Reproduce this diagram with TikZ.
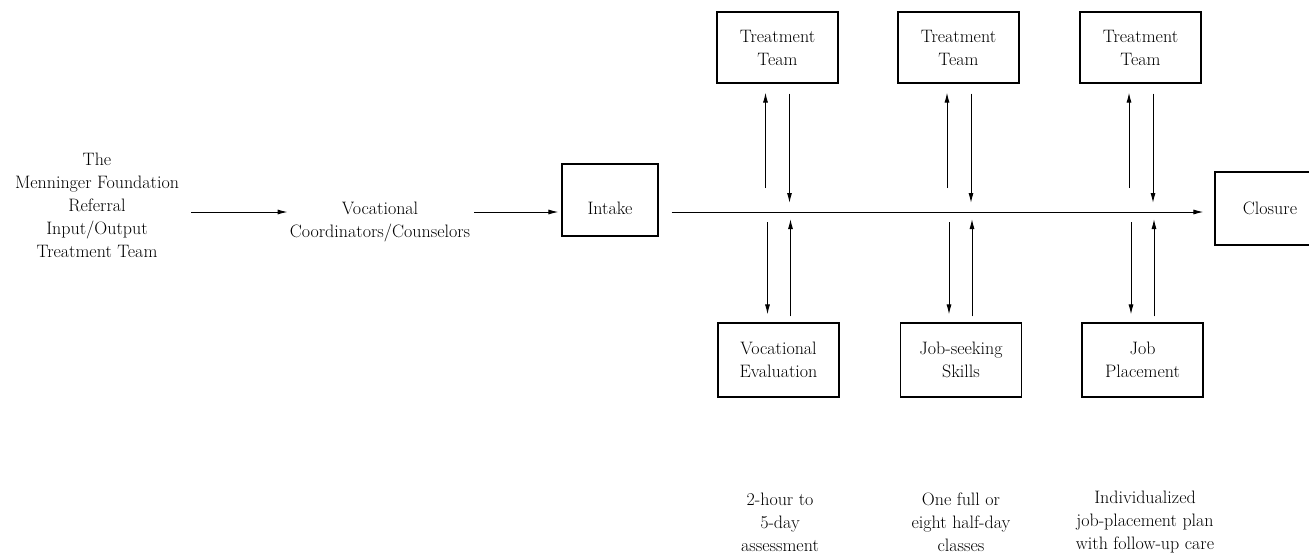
\documentclass[tikz,border=0pt]{standalone}
\usetikzlibrary{arrows.meta}
\begin{document}
\begin{tikzpicture}[x=1pt,y=-1pt,
  every node/.append style={font=\fontsize{18}{23}\selectfont},
  box/.style={draw,line width=1.1pt,minimum width=121pt,align=center,inner sep=0pt},
  txt/.style={align=center,inner sep=0pt},
  arr/.style={line width=1pt,-{Latex[length=10pt,width=5pt]}}]
\clip (0,0) rectangle (1309,558);
\useasboundingbox (0,0) rectangle (1309,558);
% left texts
\node[txt] (ref) at (97,205) {The\\Menninger Foundation\\Referral\\Input/Output\\Treatment Team};
\node[txt] (voc) at (380,222) {Vocational\\Coordinators/Counselors};
\node[box,minimum width=96pt,minimum height=72pt,text height=28pt,text depth=0pt] (intake) at (610,200) {Intake};
\node[box,minimum width=110pt,minimum height=73pt] (closure) at (1270,208.5) {Closure};
% top boxes
\node[box,minimum height=71pt] (t1) at (777.5,47.5) {Treatment\\Team};
\node[box,minimum height=71pt] (t2) at (958.5,47.5) {Treatment\\Team};
\node[box,minimum height=71pt] (t3) at (1140.5,47.5) {Treatment\\Team};
% bottom boxes
\node[box,minimum height=74pt] (b1) at (778.5,360) {Vocational\\Evaluation};
\node[box,minimum height=74pt] (b2) at (961,360) {Job-seeking\\Skills};
\node[box,minimum height=74pt] (b3) at (1142.5,360) {Job\\Placement};
% bottom notes
\node[txt] (n1) at (780,522) {2-hour to\\5-day\\assessment};
\node[txt] (n2) at (961,522) {One full or\\eight half-day\\classes};
\node[txt] (n3) at (1145,522) {Individualized\\job-placement plan\\with follow-up care};
% main line coordinates
\coordinate (m1) at (777.5,212);
\coordinate (m2) at (959,212);
\coordinate (m3) at (1141,212);
% horizontal arrows
\draw[arr,shorten <=12pt,shorten >=2pt] (ref.east |- m1) -- (voc.west |- m1);
\draw[arr,shorten <=4pt,shorten >=3pt] (voc.east |- m1) -- (intake.west |- m1);
\draw[arr,shorten <=13pt,shorten >=11pt] (intake.east |- m1) -- (closure.west |- m1);
% vertical arrows
\foreach \i in {1,2,3}{
  \draw[arr,shorten <=24pt,shorten >=9pt] ([xshift=-12pt]m\i) -- ([xshift=-12pt]m\i |- t\i.south);
  \draw[arr,shorten <=10pt,shorten >=9pt] ([xshift=12pt]m\i |- t\i.south) -- ([xshift=12pt]m\i);
  \draw[arr,shorten <=10pt,shorten >=8pt] ([xshift=-10pt]m\i) -- ([xshift=-10pt]m\i |- b\i.north);
  \draw[arr,shorten <=6pt,shorten >=7pt] ([xshift=13pt]m\i |- b\i.north) -- ([xshift=13pt]m\i);
}
\end{tikzpicture}
\end{document}
